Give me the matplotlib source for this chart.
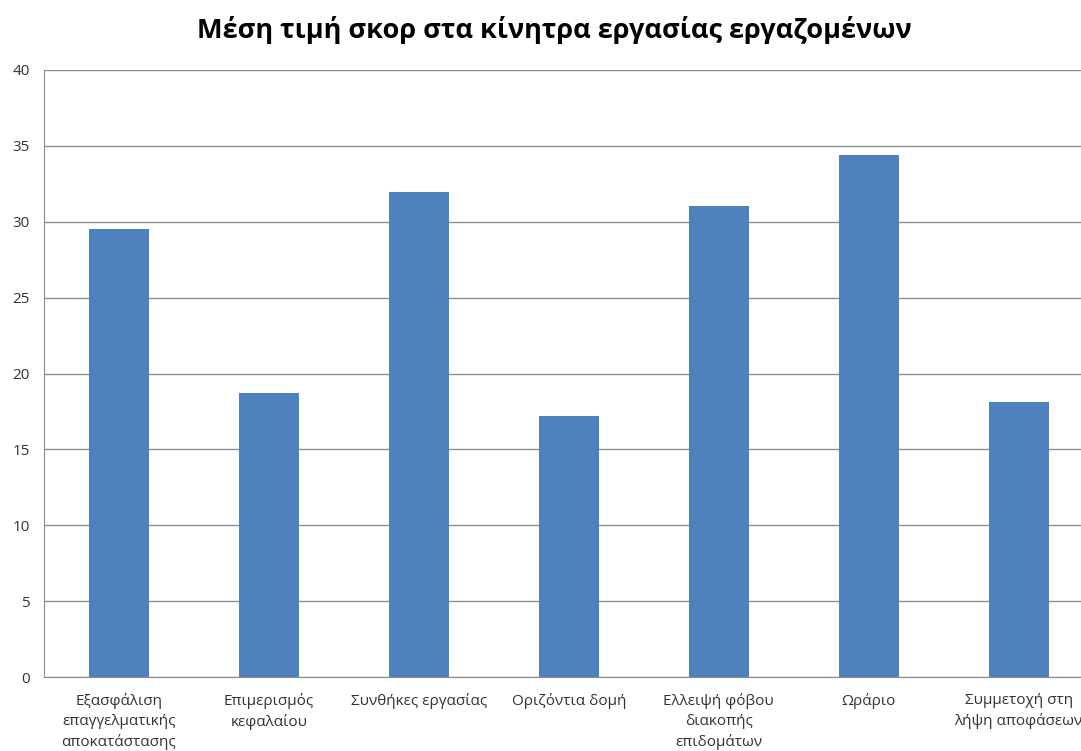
import matplotlib.pyplot as plt
import numpy as np

categories = [
    "Εξασφάλιση\nεπαγγελματικής\nαποκατάστασης",
    "Επιμερισμός\nκεφαλαίου",
    "Συνθήκες εργασίας",
    "Οριζόντια δομή",
    "Ελλειψή φόβου\nδιακοπής\nεπιδομάτων",
    "Ωράριο",
    "Συμμετοχή στη\nλήψη αποφάσεων",
]
scores = [29.5, 18.7, 31.95, 17.2, 31.05, 34.4, 18.1]
yticks = [0, 5, 10, 15, 20, 25, 30, 35, 40]

plt.rcParams['font.family'] = ['Open Sans', 'DejaVu Sans']

fig = plt.figure(figsize=(10.81, 7.51), dpi=100)
ax = fig.add_axes([0.0407, 0.0985, 0.971, 0.8083])

x = np.arange(len(categories))
ax.bar(x, scores, width=0.4, color='#4F81BD', zorder=3)

ax.set_xlim(-0.5, len(categories) - 0.5)
ax.set_ylim(0, 40)
ax.set_yticks(yticks)
ax.set_yticklabels([str(t) for t in yticks], fontsize=11, color='#333333')
ax.set_xticks(x)
ax.set_xticklabels(categories, fontsize=11, color='#333333', linespacing=1.42,
                   va='top')
ax.tick_params(axis='both', length=0)
ax.tick_params(axis='y', pad=10)
ax.tick_params(axis='x', pad=11.5)

ax.grid(axis='y', color='#8c8c8c', linewidth=1.0, zorder=0)
for side in ['top', 'right']:
    ax.spines[side].set_visible(False)
ax.spines['left'].set_color('#8c8c8c')
ax.spines['bottom'].set_color('#8c8c8c')

fig.text(0.513, 0.96, "Μέση τιμή σκορ στα κίνητρα εργασίας εργαζομένων",
         ha='center', va='center', fontsize=19.5, fontweight='bold')

fig.savefig("out.png", dpi=100)
